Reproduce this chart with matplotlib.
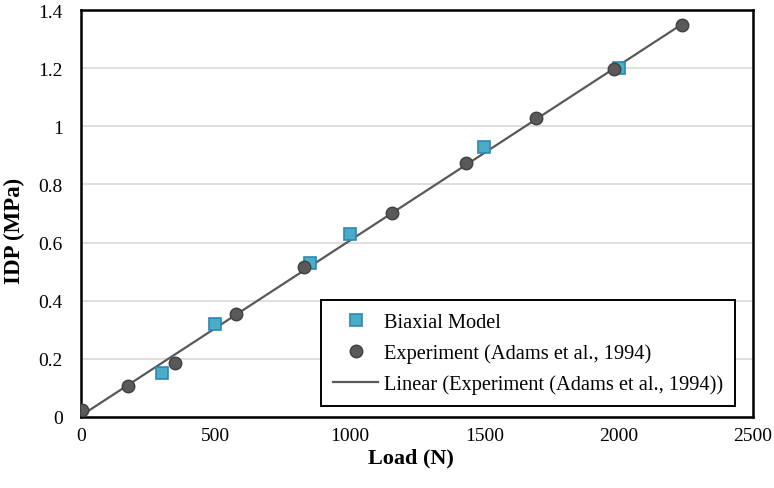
import numpy as np
import matplotlib.pyplot as plt

plt.rcParams['font.family'] = ['Liberation Serif', 'DejaVu Serif']

# Biaxial model
model_load = [300, 500, 850, 1000, 1500, 2000]
model_idp = [0.15, 0.32, 0.53, 0.63, 0.93, 1.20]

# Experiment (Adams et al., 1994)
exp_load = [5, 175, 350, 577, 830, 1157, 1432, 1693, 1983, 2236]
exp_idp = [0.025, 0.107, 0.186, 0.354, 0.515, 0.70, 0.873, 1.03, 1.196, 1.347]

fig = plt.figure(figsize=(7.74, 4.89), dpi=100)
ax = fig.add_axes([0.1047, 0.1452, 0.8682, 0.8323])

# linear trendline over the experiment range
k, b = np.polyfit(exp_load, exp_idp, 1)
xs = np.array([0, max(exp_load)])

ax.plot(model_load, model_idp, 's', ms=8.2, mfc='#4BACC6', mec='#2C87B5', mew=1.2,
        label='Biaxial Model', zorder=3)
ax.plot(exp_load, exp_idp, 'o', ms=9, mfc='#595959', mec='#404040', mew=1.0,
        label='Experiment (Adams et al., 1994)', zorder=4)
ax.plot(xs, k * xs + b, '-', color='#595959', lw=1.6,
        label='Linear (Experiment (Adams et al., 1994))', zorder=2)

ax.set_xlim(0, 2500)
ax.set_ylim(0, 1.4)
ax.set_xticks([0, 500, 1000, 1500, 2000, 2500])
ax.set_yticks([0, 0.2, 0.4, 0.6, 0.8, 1.0, 1.2, 1.4])
ax.set_yticklabels(['0', '0.2', '0.4', '0.6', '0.8', '1', '1.2', '1.4'])
ax.tick_params(length=0, labelsize=14)
ax.tick_params(axis='y', pad=13)
ax.tick_params(axis='x', pad=7)
ax.grid(axis='y', color='#D9D9D9', lw=1.2)
ax.set_axisbelow(True)
for s in ax.spines.values():
    s.set_linewidth(1.8)
    s.set_color('black')

ax.set_xlabel('Load (N)', fontsize=16, fontweight='bold')
ax.set_ylabel('IDP (MPa)', fontsize=16.5, fontweight='bold')
ax.xaxis.set_label_coords(0.491, -0.076)
ax.yaxis.set_label_coords(-0.083, 0.46)

leg = ax.legend(loc='lower right', bbox_to_anchor=(0.973, 0.027), borderaxespad=0,
                fontsize=14.7, frameon=True, fancybox=False, edgecolor='black',
                framealpha=1, borderpad=0.6, labelspacing=0.55, handlelength=2.2,
                handletextpad=0.25)
leg.get_frame().set_linewidth(1.4)

plt.savefig('out.png', dpi=100)
